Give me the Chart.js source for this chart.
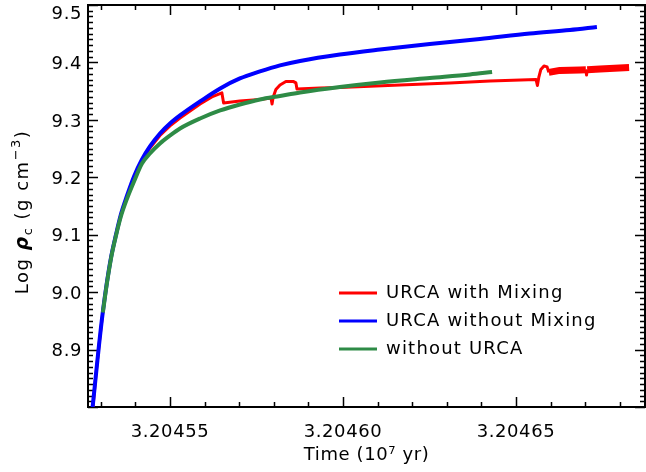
<!DOCTYPE html>
<html>
<head>
<meta charset="utf-8">
<script src="https://cdn.jsdelivr.net/npm/chart.js@4.4.1/dist/chart.umd.min.js"></script>
<style>
  html, body { margin: 0; padding: 0; background: #ffffff; }
  #wrap { width: 646px; height: 472px; }
</style>
</head>
<body>
<div id="wrap"><canvas id="c" width="646" height="472"></canvas></div>
<script>
// ---------------- data (time in 10^7 yr, log central density) ----------------
const seriesLabels = ['URCA with Mixing', 'URCA without Mixing', 'without URCA'];

const timeRed = [3.2045277, 3.2045286, 3.2045295, 3.2045306, 3.2045318, 3.2045330, 3.2045344, 3.2045358, 3.2045376, 3.2045396,
  3.2045419, 3.2045442, 3.2045471, 3.2045500, 3.2045529, 3.2045587, 3.2045621, 3.2045650, 3.2045655, 3.2045702,
  3.2045760, 3.2045792, 3.2045795, 3.2045798, 3.2045806, 3.2045818, 3.2045835, 3.2045856, 3.2045864, 3.2045867,
  3.2045934, 3.2045991, 3.2046165, 3.2046309, 3.2046425, 3.2046558, 3.2046562, 3.2046566, 3.2046572, 3.2046581,
  3.2046590, 3.2046595, 3.2046627, 3.2046685, 3.2046702, 3.2046704, 3.2046706, 3.2046743, 3.2046827];
const rhoRed = [8.7980, 8.8564, 8.9087, 8.9662, 9.0185, 9.0620, 9.1003, 9.1343, 9.1674, 9.1997,
  9.2293, 9.2510, 9.2728, 9.2894, 9.3033, 9.3277, 9.3399, 9.3469, 9.3294, 9.3329,
  9.3355, 9.3382, 9.3277, 9.3390, 9.3530, 9.3608, 9.3669, 9.3669, 9.3643, 9.3538,
  9.3556, 9.3564, 9.3608, 9.3643, 9.3678, 9.3704, 9.3599, 9.3739, 9.3878, 9.3939,
  9.3922, 9.3826, 9.3861, 9.3869, 9.3872, 9.3780, 9.3872, 9.3887, 9.3913];

const timeBlue = [3.2045276, 3.2045286, 3.2045295, 3.2045306, 3.2045318, 3.2045330, 3.2045344, 3.2045358, 3.2045376, 3.2045396,
  3.2045419, 3.2045442, 3.2045471, 3.2045500, 3.2045529, 3.2045587, 3.2045645, 3.2045702, 3.2045760, 3.2045818,
  3.2045876, 3.2045991, 3.2046107, 3.2046251, 3.2046396, 3.2046540, 3.2046656, 3.2046734];
const rhoBlue = [8.7980, 8.8564, 8.9087, 8.9662, 9.0185, 9.0620, 9.1003, 9.1352, 9.1683, 9.2014,
  9.2310, 9.2537, 9.2763, 9.2937, 9.3077, 9.3321, 9.3547, 9.3721, 9.3843, 9.3948,
  9.4026, 9.4139, 9.4226, 9.4322, 9.4409, 9.4505, 9.4566, 9.4618];

const timeGreen = [3.2045306, 3.2045318, 3.2045330, 3.2045344, 3.2045358, 3.2045376, 3.2045396, 3.2045419, 3.2045442, 3.2045471,
  3.2045500, 3.2045529, 3.2045587, 3.2045645, 3.2045702, 3.2045760, 3.2045818, 3.2045876, 3.2045991, 3.2046107,
  3.2046251, 3.2046367, 3.2046431];
const rhoGreen = [8.9645, 9.0167, 9.0603, 9.0986, 9.1317, 9.1631, 9.1927, 9.2240, 9.2415, 9.2589,
  9.2728, 9.2850, 9.3024, 9.3164, 9.3268, 9.3355, 9.3416, 9.3477, 9.3573, 9.3652,
  9.3730, 9.3791, 9.3834];

const xTickLabels = [3.20455, 3.20460, 3.20465];
const yTickLabels = [8.9, 9.0, 9.1, 9.2, 9.3, 9.4, 9.5];
const xRange = [3.2045263, 3.2046873];
const yRange = [8.8, 9.5];
const redBandStart = 3.2046595;

// ---------------- styling ----------------
const FONT = 'DejaVu Sans';
const FS = 18;
const colRed = '#ff0000', colBlue = '#0000ff', colGreen = '#2e8b46';

function pts(xs, ys) { return xs.map((x, i) => ({ x: x, y: ys[i] })); }

const spacingPlugin = {
  id: 'spacing',
  beforeUpdate(chart) { chart.ctx.letterSpacing = '0.6px'; },
  beforeDraw(chart) {
    chart.ctx.letterSpacing = '0.6px';
    // the top y label sits a little below its tick, as in the original
    const s = chart.scales.y;
    if (s && typeof s.getLabelItems === 'function') {
      s.getLabelItems().forEach(it => {
        if (it.label === '9.5') {
          const t = it.options.translation;
          it.options.translation = [t[0], t[1] + 7];
        }
      });
    }
  }
};

// frame + inward IDL-style ticks
const framePlugin = {
  id: 'frame',
  beforeDatasetsDraw(chart) {
    const { ctx, chartArea: a, scales: { x, y } } = chart;
    ctx.save();
    ctx.strokeStyle = '#000';
    ctx.lineWidth = 1.5;
    ctx.beginPath();
    for (let i = Math.round(yRange[0] * 100); i <= Math.round(yRange[1] * 100); i++) {
      const py = Math.round(y.getPixelForValue(i / 100)) + 0.5;
      const len = (i % 10 === 0) ? 10 : 5;
      ctx.moveTo(a.left, py); ctx.lineTo(a.left + len, py);
      ctx.moveTo(a.right, py); ctx.lineTo(a.right - len, py);
    }
    for (let i = Math.ceil(xRange[0] * 1e5); i <= Math.floor(xRange[1] * 1e5); i++) {
      const px = Math.round(x.getPixelForValue(i / 1e5)) + 0.5;
      const len = (i % 5 === 0) ? 10 : 5;
      ctx.moveTo(px, a.bottom); ctx.lineTo(px, a.bottom - len);
      ctx.moveTo(px, a.top); ctx.lineTo(px, a.top + len);
    }
    ctx.stroke();
    ctx.lineWidth = 2;
    ctx.strokeRect(a.left, a.top, a.right - a.left, a.bottom - a.top);
    ctx.restore();
  },
  afterDraw(chart) {
    const { ctx } = chart;
    const small = Math.round(FS * 0.7);
    const parts = [
      { t: 'Log ', f: `${FS}px "${FONT}"`, dy: 0 },
      { t: 'ρ', f: `italic bold ${FS + 1}px "${FONT}"`, dy: 0 },
      { t: 'c', f: `${small}px "${FONT}"`, dy: 4 },
      { t: ' (g cm', f: `${FS}px "${FONT}"`, dy: 0 },
      { t: '−3', f: `${small}px "${FONT}"`, dy: -8 },
      { t: ')', f: `${FS}px "${FONT}"`, dy: 0 }
    ];
    ctx.save();
    ctx.letterSpacing = '1.5px';
    let total = 0;
    parts.forEach(p => { ctx.font = p.f; p.w = ctx.measureText(p.t).width; total += p.w; });
    ctx.translate(22, 212);
    ctx.rotate(-Math.PI / 2);
    ctx.fillStyle = '#000';
    ctx.textBaseline = 'alphabetic';
    ctx.textAlign = 'left';
    let cx = -total / 2;
    const base = FS * 0.36;
    parts.forEach(p => { ctx.font = p.f; ctx.fillText(p.t, cx, base + p.dy); cx += p.w; });
    ctx.restore();

    // legend
    ctx.save();
    ctx.letterSpacing = '1.2px';
    const lx0 = 339, lx1 = 377, tx = 386, ly = [293, 321, 349];
    chart.data.datasets.forEach((ds, i) => {
      ctx.strokeStyle = ds.borderColor;
      ctx.lineWidth = 3;
      ctx.beginPath(); ctx.moveTo(lx0, ly[i]); ctx.lineTo(lx1, ly[i]); ctx.stroke();
      ctx.fillStyle = '#000';
      ctx.font = `${FS}px "${FONT}"`;
      ctx.textBaseline = 'middle';
      ctx.fillText(ds.label, tx, ly[i]);
    });
    ctx.restore();
  }
};

new Chart(document.getElementById('c'), {
  type: 'line',
  data: {
    datasets: [
      { label: seriesLabels[0], data: pts(timeRed, rhoRed), borderColor: colRed, borderWidth: 3, order: 3, tension: 0,
        segment: { borderWidth: c => (c.p0.parsed.x >= redBandStart && Math.abs(c.p1.parsed.y - c.p0.parsed.y) < 0.004) ? 7 : 3 } },
      { label: seriesLabels[1], data: pts(timeBlue, rhoBlue), borderColor: colBlue, borderWidth: 4, order: 2, cubicInterpolationMode: 'monotone' },
      { label: seriesLabels[2], data: pts(timeGreen, rhoGreen), borderColor: colGreen, borderWidth: 4, order: 1, cubicInterpolationMode: 'monotone' }
    ]
  },
  options: {
    responsive: false,
    animation: false,
    devicePixelRatio: 1,
    layout: { padding: { top: 5, right: 1, left: 0, bottom: 0 } },
    elements: { point: { radius: 0 }, line: { borderJoinStyle: 'round', borderCapStyle: 'butt' } },
    plugins: { legend: { display: false }, tooltip: { enabled: false } },
    scales: {
      x: {
        type: 'linear', min: xRange[0], max: xRange[1],
        afterBuildTicks: s => { s.ticks = xTickLabels.map(v => ({ value: v })); },
        afterFit: s => { s.height = 65; s.paddingLeft = 0; s.paddingRight = 0; },
        grid: { display: false, drawTicks: false }, border: { display: false },
        ticks: { callback: v => Number(v).toFixed(5), color: '#000', font: { family: FONT, size: FS }, padding: 15, maxRotation: 0, autoSkip: false },
        title: { display: true, text: 'Time (10⁷ yr)', color: '#000', font: { family: FONT, size: FS }, padding: { top: 0, bottom: 6 } }
      },
      y: {
        type: 'linear', min: yRange[0], max: yRange[1],
        afterBuildTicks: s => { s.ticks = yTickLabels.map(v => ({ value: v })); },
        afterFit: s => { s.width = 88; s.paddingTop = 0; s.paddingBottom = 0; },
        grid: { display: false, drawTicks: false }, border: { display: false },
        ticks: { callback: v => Number(v).toFixed(1), color: '#000', font: { family: FONT, size: FS }, padding: 6, labelOffset: 2, autoSkip: false }
      }
    }
  },
  plugins: [spacingPlugin, framePlugin]
});
</script>
</body>
</html>
